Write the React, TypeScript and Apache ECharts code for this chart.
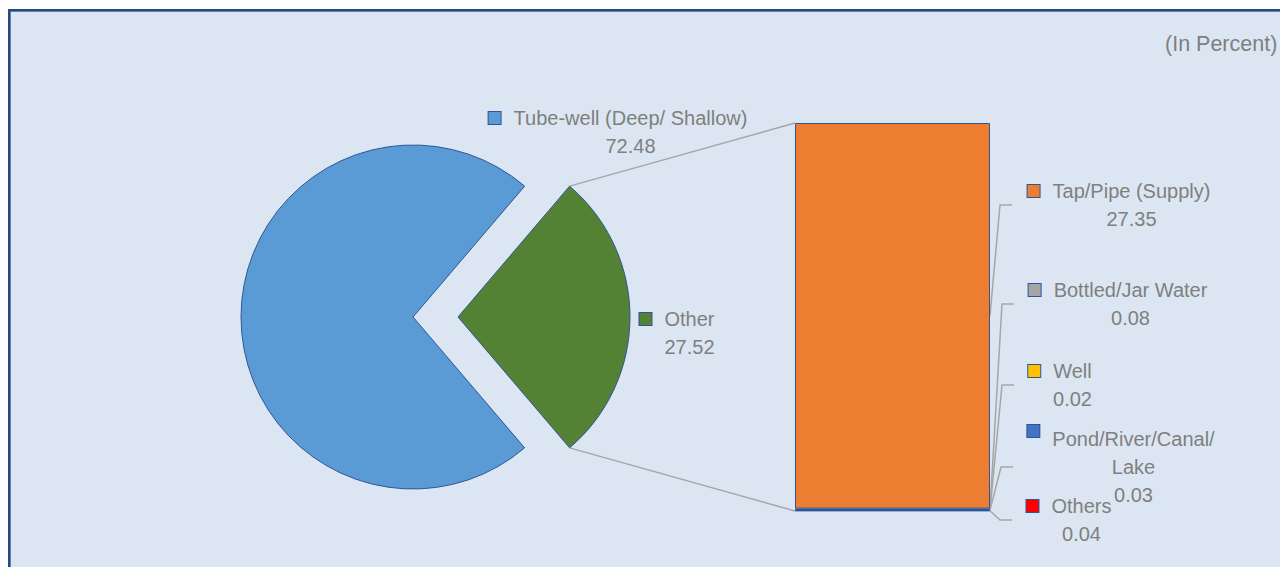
import React, { useEffect, useRef } from "react";
import * as echarts from "echarts";

// ---- data ----
const pieCategories = ["Other", "Tube-well (Deep/ Shallow)"];
const pieValues = [27.52, 72.48];
const pieColors = ["#548235", "#5B9BD5"];

// top-to-bottom order in the bar
const barCategories = ["Tap/Pipe (Supply)", "Bottled/Jar Water", "Well", "Pond/River/Canal/\nLake", "Others"];
const barValues = [27.35, 0.08, 0.02, 0.03, 0.04];
const barColors = ["#ED7D31", "#A5A5A5", "#FFC000", "#4472C4", "#FF0000"];

const unitLabel = "(In Percent)";

// ---- layout / style ----
const FONT = '"Liberation Sans", Arial, sans-serif';
const TEXT_COLOR = "#7F7F7F";
const EDGE = "#2F5597";
const LEADER = "#A6A6A6";
const PIE = { cx: 413, cy: 317, r: 172 };
// horizontal offset of each slice (exploded "Other" slice)
const pieOffsets = [45, 0];
const GRID = { left: 795, top: 123, width: 195, height: 388 };
const pieLabelPos = [
  { x: 677, y: 333 },
  { x: 618, y: 132 },
];
const barLabelPos = [
  { x: 1119, y: 205, elbow: 1000, sqAlign: "middle" },
  { x: 1118, y: 304, elbow: 1002, sqAlign: "middle" },
  { x: 1060, y: 385, elbow: 1002, sqAlign: "middle" },
  { x: 1121, y: 467, elbow: 1001, sqAlign: "top" },
  { x: 1069, y: 520, elbow: 1000, sqAlign: "middle" },
];

function richLabel(key: string, name: string, value: number) {
  const lines = name.split("\n");
  const out = [`{sq${key}|}{gap|}{t|${lines[0]}}`];
  for (let i = 1; i < lines.length; i++) out.push(`{sp|}{t|${lines[i]}}`);
  out.push(`{sp|}{t|${value.toFixed(2)}}`);
  return out.join("\n");
}

function richStyles(key: string, color: string, sqAlign: string) {
  return {
    [`sq${key}`]: {
      width: 12,
      height: 12,
      backgroundColor: color,
      borderColor: EDGE,
      borderWidth: 1,
      align: "center",
      verticalAlign: sqAlign,
    },
    gap: { width: 13, height: 12, align: "center" },
    sp: { width: 25, height: 12, align: "center" },
    t: {
      fontSize: 20,
      fontFamily: FONT,
      color: TEXT_COLOR,
      lineHeight: 28,
      align: "center",
    },
  };
}

export default function App() {
  const ref = useRef<HTMLDivElement>(null);

  useEffect(() => {
    if (!ref.current) return;
    const chart = echarts.init(ref.current, undefined, { renderer: "svg" });
    const pieSum = pieValues.reduce((a, b) => a + b, 0);
    const barTotal = barValues.reduce((a, b) => a + b, 0);
    const halfAngle = (pieValues[0] / pieSum) * 180;

    // one pie series per slice, so each slice can have its own centre (explosion)
    const pieSeries: any[] = pieCategories.map((_, k) => ({
      type: "pie",
      center: [PIE.cx + pieOffsets[k], PIE.cy],
      radius: PIE.r,
      startAngle: halfAngle,
      clockwise: true,
      avoidLabelOverlap: false,
      emphasis: { disabled: true },
      labelLine: { show: false },
      data: pieCategories.map((name, i) => ({
        name,
        value: pieValues[i],
        itemStyle:
          i === k
            ? { color: pieColors[i], borderColor: EDGE, borderWidth: 1 }
            : { color: "rgba(0,0,0,0)", borderWidth: 0 },
        label:
          i === k
            ? {
                show: true,
                formatter: richLabel("p" + i, name, pieValues[i]),
                rich: richStyles("p" + i, pieColors[i], "middle"),
                lineHeight: 28,
                color: TEXT_COLOR,
                textBorderWidth: 0,
              }
            : { show: false },
      })),
      labelLayout: {
        x: pieLabelPos[k].x,
        y: pieLabelPos[k].y,
        align: "center",
        verticalAlign: "middle",
      },
    }));

    const barSeries: any[] = barCategories
      .map((name, i) => ({
        type: "bar",
        name,
        stack: "other",
        barWidth: "100%",
        data: [barValues[i]],
        emphasis: { disabled: true },
        itemStyle: { color: barColors[i], borderColor: EDGE, borderWidth: 1 },
        label: {
          show: true,
          position: "right",
          formatter: richLabel("b" + i, name, barValues[i]),
          rich: richStyles("b" + i, barColors[i], barLabelPos[i].sqAlign),
          lineHeight: 28,
          color: TEXT_COLOR,
          textBorderWidth: 0,
        },
        labelLayout: {
          x: barLabelPos[i].x,
          y: barLabelPos[i].y,
          align: "center",
          verticalAlign: "middle",
        },
      }))
      .reverse();

    chart.setOption({
      animation: false,
      backgroundColor: "transparent",
      textStyle: { fontFamily: FONT },
      title: {
        text: unitLabel,
        left: 1165,
        top: 33,
        padding: 0,
        textStyle: { fontSize: 21.5, fontWeight: "normal", color: TEXT_COLOR, fontFamily: FONT },
      },
      grid: { left: GRID.left, top: GRID.top, width: GRID.width, height: GRID.height },
      xAxis: { type: "category", data: ["Other"], show: false },
      yAxis: { type: "value", min: 0, max: barTotal, show: false },
      series: [...pieSeries, ...barSeries],
    });

    // leader lines
    const toY = (v: number) => chart.convertToPixel({ yAxisIndex: 0 }, v) as number;
    const rad = (halfAngle * Math.PI) / 180;
    const gx = PIE.cx + pieOffsets[0];
    const topV = [gx + PIE.r * Math.cos(rad), PIE.cy - PIE.r * Math.sin(rad)];
    const botV = [gx + PIE.r * Math.cos(rad), PIE.cy + PIE.r * Math.sin(rad)];
    const lineStyle = { stroke: LEADER, lineWidth: 1.5, fill: null };
    const graphics: any[] = [
      { type: "line", shape: { x1: topV[0], y1: topV[1], x2: GRID.left, y2: toY(barTotal) }, style: lineStyle, silent: true },
      { type: "line", shape: { x1: botV[0], y1: botV[1], x2: GRID.left, y2: toY(0) }, style: lineStyle, silent: true },
    ];
    const rightX = GRID.left + GRID.width;
    barCategories.forEach((_, i) => {
      let below = 0;
      for (let j = i + 1; j < barValues.length; j++) below += barValues[j];
      const midY = toY(below + barValues[i] / 2);
      const pos = barLabelPos[i];
      graphics.push({
        type: "polyline",
        shape: { points: [[rightX, midY], [pos.elbow, pos.y], [pos.elbow + 12, pos.y]] },
        style: lineStyle,
        silent: true,
      });
    });
    chart.setOption({ graphic: graphics });

    return () => chart.dispose();
  }, []);

  return (
    <>
      <div
        style={{
          position: "fixed",
          left: 8,
          top: 9,
          width: 1272,
          height: 558,
          boxSizing: "border-box",
          background: "#DCE6F2",
          borderLeft: "2px solid #264A7D",
          borderTop: "2px solid #264A7D",
          boxShadow: "inset 1px 1px 0 #5E82B6",
        }}
      />
      <div ref={ref} style={{ position: "fixed", left: 0, top: 0, width: 1280, height: 567 }} />
    </>
  );
}
